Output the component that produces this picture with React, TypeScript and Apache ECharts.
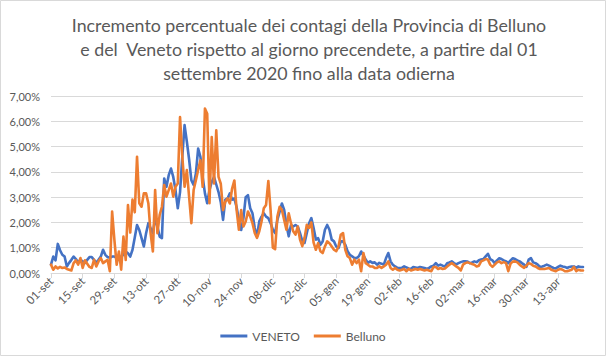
import React, { useEffect, useRef } from "react";
import * as echarts from "echarts";

const TITLE_LINES = [
  "Incremento percentuale dei contagi della Provincia di Belluno",
  "e del  Veneto rispetto al giorno precendete, a partire dal 01",
  "settembre 2020 fino alla data odierna",
];

const MONTHS_IT = ["gen", "feb", "mar", "apr", "mag", "giu", "lug", "ago", "set", "ott", "nov", "dic"];

// percent values, one per day starting 01-set-2020
const veneto = [
  0.33, 0.65, 0.5, 1.15, 0.9, 0.72, 0.65, 0.26, 0.4, 0.52,
  0.65, 0.55, 0.42, 0.52, 0.46, 0.4, 0.52, 0.63, 0.63, 0.52,
  0.4, 0.52, 0.65, 0.92, 0.72, 0.63, 0.6, 0.65, 0.65, 0.6,
  0.52, 0.65, 0.72, 0.85, 0.78, 0.65, 0.92, 1.4, 1.9, 1.7,
  1.38, 1.05, 1.57, 1.97, 1.77, 1.57, 2.17, 1.84, 1.44, 1.38,
  3.74, 3.41, 3.87, 4.13, 3.8, 3.28, 2.56, 3.2, 4.6, 5.85,
  5.2, 4.5, 3.67, 3.48, 3.94, 4.92, 4.59, 3.8, 3.15, 2.76,
  3.28, 3.6, 3.8, 3.5, 3.2, 2.8, 2.1, 2.9, 2.95, 3.15,
  2.9, 2.95, 2.6, 2.1, 1.7, 2.17, 3.0, 3.08, 2.56, 2.36,
  1.78, 1.45, 2.04, 2.23, 2.36, 2.23, 2.17, 1.97, 1.71, 1.58,
  2.1, 2.43, 2.75, 2.49, 1.9, 1.45, 1.9, 1.84, 1.9, 1.84,
  1.58, 1.26, 1.19, 1.58, 1.97, 2.17, 1.78, 1.32, 1.38, 1.12,
  1.25, 1.71, 1.9, 1.71, 1.32, 1.25, 1.05, 0.99, 1.25, 1.25,
  1.12, 0.86, 0.72, 0.66, 0.59, 0.59, 0.66, 0.85, 0.7, 0.53,
  0.4, 0.46, 0.4, 0.42, 0.33, 0.4, 0.37, 0.33, 0.59, 0.79,
  0.46, 0.33, 0.26, 0.2, 0.2, 0.2, 0.26, 0.22, 0.18, 0.16,
  0.24, 0.22, 0.2, 0.24, 0.22, 0.2, 0.16, 0.2, 0.26, 0.29,
  0.39, 0.29, 0.33, 0.29, 0.26, 0.39, 0.42, 0.46, 0.39, 0.34,
  0.39, 0.43, 0.46, 0.46, 0.45, 0.39, 0.42, 0.46, 0.43, 0.5,
  0.53, 0.55, 0.66, 0.76, 0.55, 0.5, 0.39, 0.5, 0.58, 0.55,
  0.5, 0.46, 0.39, 0.5, 0.58, 0.55, 0.5, 0.46, 0.39, 0.33,
  0.24, 0.53, 0.59, 0.42, 0.39, 0.33, 0.24, 0.26, 0.29, 0.33,
  0.29, 0.24, 0.2, 0.18, 0.24, 0.29, 0.26, 0.24, 0.2, 0.24,
  0.26, 0.26, 0.2, 0.26, 0.24, 0.24,
];

const belluno = [
  0.33, 0.13, 0.26, 0.18, 0.24, 0.2, 0.22, 0.16, 0.13, 0.1,
  0.39, 0.5, 0.33, 0.59, 0.2, 0.5, 0.37, 0.24, 0.2, 0.52,
  0.26, 0.46, 0.59, 0.39, 0.46, 0.52, 0.07, 2.43, 1.31, 0.33,
  0.85, 0.13, 1.44, 0.52, 2.69, 1.6, 2.9, 2.4, 4.6, 2.76,
  2.62, 3.15, 3.15, 2.76, 1.57, 0.85, 3.28, 1.57, 2.3, 2.62,
  3.48, 3.02, 3.28, 3.54, 3.02, 3.41, 3.54, 6.17, 4.6, 3.41,
  4.07, 3.02, 1.97, 3.28, 3.67, 4.07, 4.46, 3.41, 6.5, 6.3,
  2.76, 5.38, 3.54, 5.64, 3.8, 3.53, 2.49, 2.82, 2.95, 2.75,
  3.34, 3.66, 2.49, 1.71, 2.49, 1.84, 2.04, 2.43, 2.23, 1.97,
  1.58, 1.39, 1.65, 2.04, 2.56, 2.69, 3.64, 2.49, 1.0, 0.94,
  2.23, 2.62, 2.49, 2.1, 1.71, 2.36, 1.97, 1.65, 1.52, 1.84,
  1.32, 1.06, 1.39, 1.91, 1.78, 2.0, 1.2, 0.92, 1.18, 0.86,
  0.79, 1.05, 1.25, 1.18, 1.05, 0.92, 0.86, 1.05, 1.51, 1.58,
  0.92, 0.66, 0.59, 0.33, 0.53, 0.39, 0.53, 0.07, 0.79, 0.39,
  0.33, 0.26, 0.26, 0.2, 0.2, 0.26, 0.2, 0.26, 0.33, 0.46,
  0.2, 0.13, 0.2, 0.13, 0.1, 0.13, 0.16, 0.07, 0.16, 0.1,
  0.13, 0.16, 0.13, 0.16, 0.13, 0.1, 0.13, 0.1, 0.07, 0.24,
  0.24, 0.16, 0.2, 0.16, 0.18, 0.26, 0.33, 0.39, 0.33, 0.26,
  0.2, 0.1, 0.33, 0.39, 0.42, 0.39, 0.36, 0.33, 0.26, 0.29,
  0.46, 0.5, 0.55, 0.53, 0.33, 0.24, 0.33, 0.42, 0.46, 0.39,
  0.43, 0.39, 0.07, 0.37, 0.45, 0.46, 0.42, 0.33, 0.26, 0.2,
  0.29, 0.39, 0.36, 0.29, 0.26, 0.2, 0.16, 0.16, 0.16, 0.18,
  0.2, 0.13, 0.1, 0.07, 0.13, 0.16, 0.13, 0.07, 0.07, 0.1,
  0.13, 0.24, 0.07, 0.13, 0.1, 0.1,
];

const categories = veneto.map((_, i) => {
  const d = new Date(2020, 8, 1 + i);
  return String(d.getDate()).padStart(2, "0") + "-" + MONTHS_IT[d.getMonth()];
});

const FONT = "Lato, 'Liberation Sans', sans-serif";
const TXT = "#595959";

export default function App() {
  const ref = useRef<HTMLDivElement>(null);
  useEffect(() => {
    if (!ref.current) return;
    const chart = echarts.init(ref.current, null, { renderer: "svg" });
    chart.setOption({
      animation: false,
      backgroundColor: "#ffffff",
      textStyle: { fontFamily: FONT },
      title: {
        text: TITLE_LINES.join("\n"),
        left: 304,
        top: 8,
        textAlign: "center",
        textStyle: { fontFamily: FONT, fontSize: 17.8, fontWeight: "normal", color: TXT, lineHeight: 24 },
      },
      graphic: [
        {
          type: "rect",
          shape: { x: 0.5, y: 0.5, width: 605, height: 355 },
          style: { fill: "none", stroke: "#d9d9d9", lineWidth: 1 },
          silent: true,
        },
      ],
      legend: {
        top: 325,
        left: "center",
        icon: "rect",
        itemWidth: 27,
        itemHeight: 3,
        itemGap: 14,
        textStyle: { fontFamily: FONT, fontSize: 12, color: TXT },
        data: ["VENETO", "Belluno"],
      },
      grid: { left: 51, right: 23, top: 96, bottom: 83, containLabel: false },
      xAxis: {
        type: "category",
        data: categories,
        boundaryGap: false,
        axisLine: { lineStyle: { color: "#d9d9d9" } },
        axisTick: { show: true, interval: 13, length: 5, lineStyle: { color: "#d9d9d9" } },
        axisLabel: {
          interval: 13,
          rotate: 45,
          color: TXT,
          fontFamily: FONT,
          fontSize: 11.5,
          margin: 6,
        },
        splitLine: { show: false },
      },
      yAxis: {
        type: "value",
        min: 0,
        max: 7,
        interval: 1,
        axisLine: { show: false },
        axisTick: { show: false },
        axisLabel: {
          color: TXT,
          fontFamily: FONT,
          fontSize: 11,
          margin: 11,
          formatter: (v: number) => v.toFixed(2).replace(".", ",") + "%",
        },
        splitLine: { lineStyle: { color: "#d9d9d9" } },
      },
      series: [
        {
          name: "VENETO",
          type: "line",
          data: veneto,
          showSymbol: false,
          symbol: "none",
          color: "#4472C4",
          lineStyle: { width: 2.6, color: "#4472C4", join: "round", cap: "round" },
        },
        {
          name: "Belluno",
          type: "line",
          data: belluno,
          showSymbol: false,
          symbol: "none",
          color: "#ED7D31",
          lineStyle: { width: 2.6, color: "#ED7D31", join: "round", cap: "round" },
        },
      ],
    });
    return () => chart.dispose();
  }, []);
  return (
    <div
      ref={ref}
      style={{ position: "fixed", left: 0, top: 0, width: 606, height: 356, background: "#fff" }}
    />
  );
}
